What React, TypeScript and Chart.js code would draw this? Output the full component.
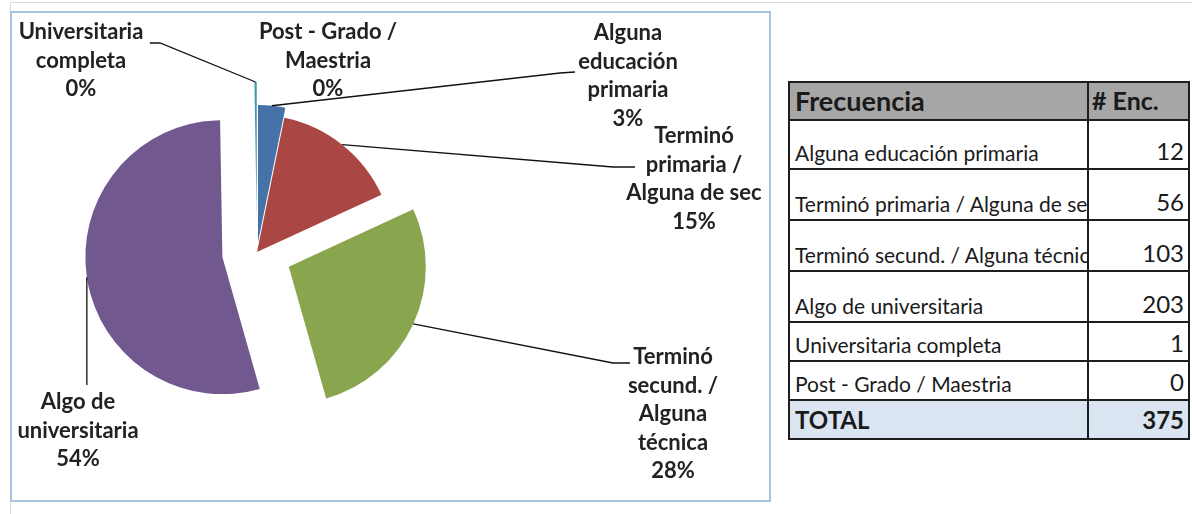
import React, { useEffect, useRef } from "react";
import { Chart, registerables } from "chart.js";

Chart.register(...registerables);

// ---------- data ----------
const categories = [
  "Alguna educación primaria",
  "Terminó primaria / Alguna de sec",
  "Terminó secund. / Alguna técnica",
  "Algo de universitaria",
  "Universitaria completa",
  "Post - Grado / Maestria",
];
const counts = [12, 56, 103, 203, 1, 0];
const percentLabels = ["3%", "15%", "28%", "54%", "0%", "0%"];
const labelLines = [
  ["Alguna", "educación", "primaria"],
  ["Terminó", "primaria /", "Alguna de sec"],
  ["Terminó", "secund. /", "Alguna", "técnica"],
  ["Algo de", "universitaria"],
  ["Universitaria", "completa"],
  ["Post - Grado /", "Maestria"],
];
const tableHeader = ["Frecuencia", "# Enc."];
const totalLabel = "TOTAL";

// ---------- style ----------
const colors = ["#4572A7", "#AA4643", "#89A54E", "#71588F", "#4198AF", "#DB843D"];
const explode = [10, 0, 35, 35, 33, 0];
const PIE_RADIUS = 137;
const LABEL_FONT = "bold 22px Lato";
const LINE_STEP = 28.6;
// label positions relative to the pie centre (first line centre), leader elbows
const labelLayout: { x: number; y: number; leader: number[][] | null; vertical?: number }[] = [
  { x: 371, y: -219, leader: [[303, -179], [318, -180]] },
  { x: 437, y: -116, leader: [[356, -85], [378, -85]] },
  { x: 416, y: 105, leader: [[356, 111], [373, 111]] },
  { x: -179, y: 150, leader: null, vertical: 133 },
  { x: -176, y: -220, leader: [[-97, -209], [-107, -209]] },
  { x: 71, y: -220, leader: null },
];
const rowHeights = [49, 51, 51, 51, 39, 39];

const explodePlugin = {
  id: "explodeSlices",
  afterDatasetsUpdate(chart: any) {
    const ca = chart.chartArea;
    const cx = (ca.left + ca.right) / 2;
    const cy = (ca.top + ca.bottom) / 2;
    const meta = chart.getDatasetMeta(0);
    meta.data.forEach((arc: any, i: number) => {
      const mid = (arc.startAngle + arc.endAngle) / 2;
      arc.x = cx + Math.cos(mid) * explode[i];
      arc.y = cy + Math.sin(mid) * explode[i];
    });
  },
};

const labelPlugin = {
  id: "pieLabels",
  afterDraw(chart: any) {
    const ctx = chart.ctx;
    const ca = chart.chartArea;
    const cx = (ca.left + ca.right) / 2;
    const cy = (ca.top + ca.bottom) / 2;
    const meta = chart.getDatasetMeta(0);
    ctx.save();
    ctx.strokeStyle = "#111";
    ctx.lineWidth = 1.3;
    meta.data.forEach((arc: any, i: number) => {
      const lay = labelLayout[i];
      const mid = (arc.startAngle + arc.endAngle) / 2;
      const sx = arc.x + Math.cos(mid) * arc.outerRadius;
      const sy = arc.y + Math.sin(mid) * arc.outerRadius;
      if (lay.leader) {
        ctx.beginPath();
        ctx.moveTo(sx, sy);
        lay.leader.forEach((p) => ctx.lineTo(cx + p[0], cy + p[1]));
        ctx.stroke();
      } else if (lay.vertical !== undefined) {
        ctx.beginPath();
        ctx.moveTo(sx, sy);
        ctx.lineTo(sx, cy + lay.vertical);
        ctx.stroke();
      }
      ctx.fillStyle = "#222";
      ctx.font = LABEL_FONT;
      ctx.textAlign = "center";
      ctx.textBaseline = "middle";
      const lines = [...labelLines[i], percentLabels[i]];
      lines.forEach((t, k) => ctx.fillText(t, cx + lay.x, cy + lay.y + k * LINE_STEP));
    });
    ctx.restore();
  },
};

function PieChart() {
  const ref = useRef<HTMLCanvasElement | null>(null);
  useEffect(() => {
    if (!ref.current) return;
    const chart = new Chart(ref.current, {
      type: "pie",
      data: {
        labels: categories,
        datasets: [
          {
            data: counts,
            backgroundColor: colors,
            borderWidth: 0,
            clip: false,
          } as any,
        ],
      },
      options: {
        responsive: false,
        animation: false,
        events: [],
        radius: PIE_RADIUS,
        layout: { padding: { left: 20, right: 287, top: 30, bottom: 39 } },
        plugins: { legend: { display: false }, tooltip: { enabled: false } },
      } as any,
      plugins: [explodePlugin, labelPlugin],
    });
    return () => chart.destroy();
  }, []);
  return (
    <canvas
      ref={ref}
      width={757}
      height={487}
      style={{ position: "absolute", left: 12, top: 13, width: 757, height: 487 }}
    />
  );
}

function DataTable() {
  const total = counts.reduce((a, b) => a + b, 0);
  const border = "2px solid #1e1e1e";
  const cellBase: React.CSSProperties = {
    boxSizing: "border-box",
    display: "flex",
    alignItems: "flex-end",
    overflow: "hidden",
    whiteSpace: "nowrap",
  };
  const row = (
    key: string,
    h: number,
    left: string,
    right: string,
    bg: string,
    leftStyle: React.CSSProperties,
    rightStyle: React.CSSProperties
  ) => (
    <div key={key} style={{ display: "flex", height: h, boxSizing: "border-box", borderBottom: border, background: bg }}>
      <div style={{ ...cellBase, width: 299, borderRight: border, paddingLeft: 5, ...leftStyle }}>{left}</div>
      <div style={{ ...cellBase, width: 99, justifyContent: "flex-end", paddingRight: 4, ...rightStyle }}>{right}</div>
    </div>
  );
  const headStyle: React.CSSProperties = { fontFamily: "Lato", fontWeight: 700, fontSize: 27, lineHeight: "27px", paddingBottom: 5, color: "#1a1a1a" };
  const labelStyle: React.CSSProperties = { fontFamily: "Lato", fontWeight: 400, fontSize: 21, lineHeight: "21px", paddingBottom: 5, color: "#1a1a1a" };
  const numStyle: React.CSSProperties = { fontFamily: "Lato", fontWeight: 400, fontSize: 24, lineHeight: "24px", paddingBottom: 5, color: "#1a1a1a" };
  return (
    <div
      style={{
        position: "absolute",
        left: 788,
        top: 81,
        width: 402,
        boxSizing: "border-box",
        borderTop: border,
        borderLeft: border,
        borderRight: border,
      }}
    >
      {row("h", 38, tableHeader[0], tableHeader[1], "#a6a6a6", headStyle, { ...headStyle, fontSize: 25, justifyContent: "flex-start", paddingLeft: 3 })}
      {categories.map((c, i) => row("r" + i, rowHeights[i], c, String(counts[i]), "#ffffff", labelStyle, numStyle))}
      {row("t", 39, totalLabel, String(total), "#dbe5f1", { ...headStyle, fontSize: 24, paddingBottom: 5 }, { ...headStyle, fontSize: 24, paddingBottom: 5 })}
    </div>
  );
}

export default function App() {
  return (
    <div style={{ position: "absolute", left: 0, top: 0, width: 1192, height: 514, background: "#fff", overflow: "hidden" }}>
      <div style={{ position: "absolute", left: 10, top: 2, width: 1182, height: 1, background: "#d9d9d9" }} />
      <div style={{ position: "absolute", left: 10, top: 2, width: 1, height: 512, background: "#d9d9d9" }} />
      <div
        style={{
          position: "absolute",
          left: 10,
          top: 11,
          width: 761,
          height: 491,
          boxSizing: "border-box",
          border: "2px solid #a9c3e3",
        }}
      />
      <PieChart />
      <DataTable />
    </div>
  );
}
